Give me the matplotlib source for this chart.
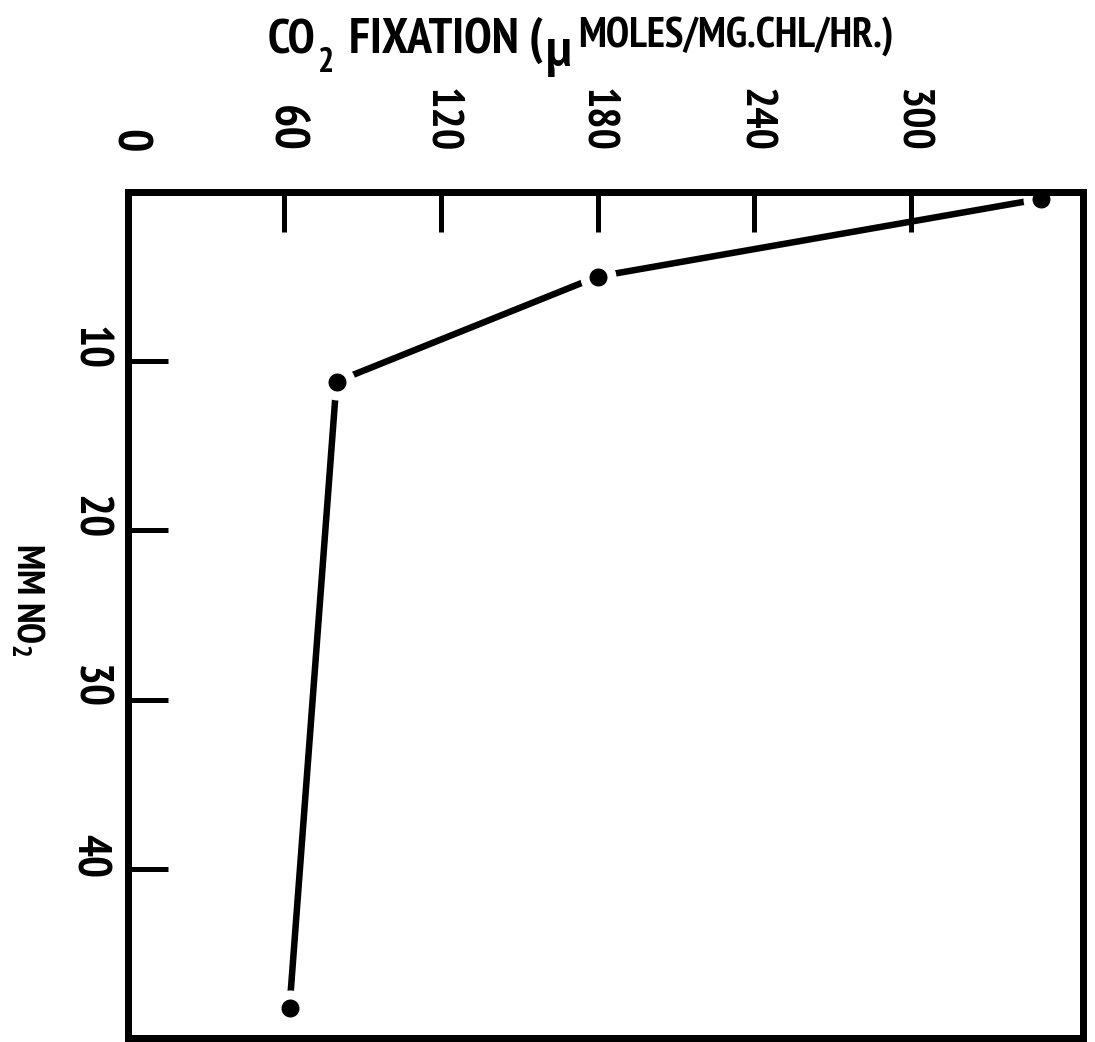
import matplotlib
matplotlib.use("Agg")
import matplotlib.pyplot as plt
from matplotlib import font_manager
from matplotlib.transforms import ScaledTranslation

# Data: CO2 fixation rate versus nitrite concentration
no2_mm = [0.4, 5.0, 11.2, 48.2]
co2_fixation = [350, 180, 80, 62]

x_ticks = [0, 60, 120, 180, 240, 300]
x_tick_labels = ["0", "60", "120", "180", "240", "300"]
y_ticks = [10, 20, 30, 40]
y_tick_labels = ["10", "20", "30", "40"]

# Prefer a narrow lettering face; fall back to DejaVu Sans
names = {f.name for f in font_manager.fontManager.ttflist}
FAM = "DejaVu Sans"
for cand in ["PT Sans Narrow", "Liberation Sans Narrow"]:
    if cand in names:
        FAM = cand
        break
plt.rcParams["font.family"] = [FAM, "DejaVu Sans"]
plt.rcParams["font.weight"] = "bold"
plt.rcParams["mathtext.fontset"] = "custom"
plt.rcParams["mathtext.rm"] = FAM + ":bold"
plt.rcParams["mathtext.it"] = FAM + ":bold"
plt.rcParams["mathtext.bf"] = FAM + ":bold"

W, H = 1095, 1042
fig = plt.figure(figsize=(W / 100, H / 100), dpi=100)
fig.patch.set_facecolor("white")
renderer = fig.canvas.get_renderer()


def fx(px):
    return px / W


def fy(py):
    return (H - py) / H


def pt(px):
    return px * 72 / 100


def fit(txt, length_px, vertical=False):
    """Shrink a text so its reading-direction extent does not exceed length_px."""
    bb = txt.get_window_extent(renderer)
    ext = bb.height if vertical else bb.width
    if ext > length_px:
        txt.set_fontsize(txt.get_fontsize() * length_px / ext)


left, right, top, bottom = 127.7, 1083, 192, 1038
ax = fig.add_axes([fx(left), fy(bottom), (right - left) / W, (bottom - top) / H])
ax.set_xlim(0, 366)
ax.set_ylim(50, 0)

for s in ax.spines.values():
    s.set_linewidth(pt(7))
    s.set_zorder(6)

# Curve with small gaps left around each point
ax.plot(co2_fixation, no2_mm, color="black", lw=pt(6.5), solid_capstyle="round", zorder=2)
ax.plot(co2_fixation, no2_mm, "o", color="black", ms=pt(27), mfc="black",
        mec="white", mew=pt(9), zorder=3, clip_on=False)

tick_fs = pt(49)
ax.xaxis.tick_top()
ax.set_xticks(x_ticks)
ax.set_xticklabels(x_tick_labels)
ax.tick_params(axis="x", direction="in", length=pt(40), width=pt(5), pad=pt(40),
               labelsize=tick_fs, labelrotation=-90, top=True, bottom=False)
for lab in ax.get_xticklabels():
    lab.set_fontweight("bold")
    fit(lab, 64, vertical=True)

ax.set_yticks(y_ticks)
ax.set_yticklabels([])
ax.tick_params(axis="y", direction="in", length=pt(40), width=pt(5), left=True, right=False)

ytrans = ax.get_yaxis_transform() + ScaledTranslation(-18 / 100, 13 / 100, fig.dpi_scale_trans)
for yv, lab in zip(y_ticks, y_tick_labels):
    t = ax.text(0, yv, lab, transform=ytrans, rotation=-90, ha="right", va="center",
                fontsize=tick_fs, fontweight="bold")
    fit(t, 44, vertical=True)


# Horizontal title built from pieces laid end to end
def piece(s, x_px, base_py, size_px, maxw=None):
    t = fig.text(fx(x_px), fy(base_py), s, fontsize=pt(size_px), va="baseline",
                 ha="left", fontweight="bold")
    if maxw is not None:
        fit(t, maxw)
    bb = t.get_window_extent(renderer)
    return bb.x1


x = piece("CO", 268, 53, 50, maxw=48)
x = piece("2", x + 2, 72, 34)
x = piece("FIXATION (", x + 15, 53, 50, maxw=200)
x = piece("\u03bc", x + 3, 66, 54)
x = piece("MOLES/MG.CHL/HR.)", x + 7, 47, 42, maxw=330)

# Vertical axis title
yl = fig.text(fx(28), fy(600), "MM NO$_2$", rotation=-90, ha="center", va="center",
              fontsize=pt(38), fontweight="bold")
fit(yl, 126, vertical=True)

fig.savefig("out.png", dpi=100, facecolor="white")
